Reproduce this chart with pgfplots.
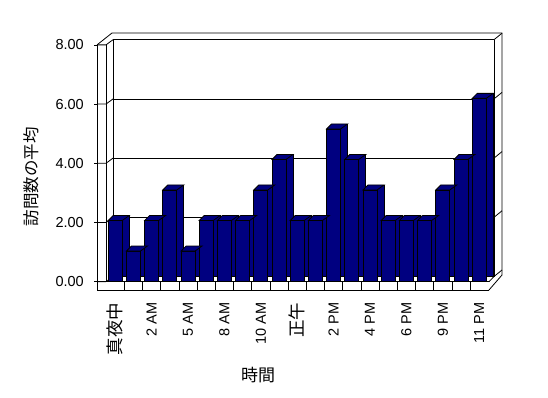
\documentclass[border=0pt]{standalone}
\usepackage{fontspec}
\setmainfont{Liberation Sans}
\newfontfamily\cjk{Noto Sans CJK JP}
\usepackage{pgfplots}
\usepackage{pgfplotstable}
\pgfplotsset{compat=1.18}
\definecolor{barfront}{HTML}{000080}
\definecolor{barside}{HTML}{000080}
\definecolor{bartop}{HTML}{000080}

\pgfdeclareplotmark{topface}{%
  \pgfpathmoveto{\pgfqpoint{-7pt}{0pt}}%
  \pgfpathlineto{\pgfqpoint{7pt}{0pt}}%
  \pgfpathlineto{\pgfqpoint{14pt}{5pt}}%
  \pgfpathlineto{\pgfqpoint{-2pt}{5pt}}%
  \pgfpathclose
  \pgfusepathqfillstroke}

\pgfplotstableread{
hour visits
0 2
1 1
2 2
3 3
4 1
5 2
6 2
7 2
8 3
9 4
10 2
11 2
12 5
13 4
14 3
15 2
16 2
17 2
18 3
19 4
20 6
}\visits

\begin{document}
\begin{tikzpicture}
\path[use as bounding box] (0pt,0pt) rectangle (548pt,-398pt);

% back wall with gridlines
\begin{axis}[at={(113pt,-276.5pt)}, anchor=south west, scale only axis,
  width=381pt, height=236.8pt, xmin=0, xmax=1, ymin=0, ymax=8,
  xtick=\empty, ytick={0,2,4,6,8}, yticklabels={}, ymajorgrids,
  grid style={black, line width=0.8pt},
  axis line style={draw=none}, tick style={draw=none}]
\addplot[draw=none] coordinates {(0,0)};
\end{axis}

% walls
\begin{scope}[x=1pt, y=-1pt, line width=0.8pt]
  \draw (97,44.9) -- (97,290);
  \draw (106,44.9) -- (106,281.7);
  \draw (113,39.7) -- (113,276.5);
  \draw (494,39.7) -- (494,276.5);
  \draw (97,44.9) -- (112,33) -- (502,33) -- (502,275);
  \foreach \yf/\yb in {281.7/276.5, 222.5/217.3, 163.3/158.1, 104.1/98.9, 44.9/39.7}{
    \draw (97,\yf) -- (106,\yf) -- (113,\yb);
    \draw (494,\yb) -- (502,\yb-6.5);
  }
\end{scope}

% bars
\begin{axis}[at={(106.1pt,-281.6pt)}, anchor=south west, scale only axis,
  width=382.2pt, height=244.3pt, xmin=-0.5, xmax=20.5, ymin=0, ymax=8,
  clip=false, axis line style={draw=none}, tick style={draw=none},
  ytick=\empty, xtick={0,2,...,20},
  xticklabels={{\cjk\fontsize{17.5}{20}\selectfont 真夜中}, 2 AM, 5 AM, 8 AM, 10 AM,
    {\cjk\fontsize{17.5}{20}\selectfont 正午}, 2 PM, 4 PM, 6 PM, 9 PM, 11 PM},
  xticklabel style={rotate=90, anchor=east, inner sep=0pt,
    font=\fontsize{14.5}{16}\selectfont},
  xticklabel shift=21pt]
\pgfplotsinvokeforeach{0,...,20}{
  \addplot[ybar, bar width=14pt, bar shift=0pt, fill=barside, draw=black,
    line width=0.8pt, xshift=7pt, yshift=5pt,
    restrict x to domain=#1:#1, forget plot]
    table[x=hour, y=visits] {\visits};
  \addplot[ybar, bar width=14pt, bar shift=0pt, fill=barfront, draw=black,
    line width=0.8pt, mark=topface, mark options={fill=bartop, draw=black},
    restrict x to domain=#1:#1, forget plot]
    table[x=hour, y=visits] {\visits};
}
\end{axis}

% floor front face
\begin{scope}[x=1pt, y=-1pt, line width=0.8pt]
  \fill[white] (106.4,282.1) rectangle (489,289.6);
  \draw (97,281.7) -- (489,281.7);
  \draw (97,290) -- (489,290);
  \foreach \k in {1,...,20}{
    \draw ({106.1+18.2*\k},281.7) -- ({106.1+18.2*\k},290);
  }
  \draw (489,281.7) -- (494,276.5);
  \draw (489,290) -- (502,275);
  \node[rotate=90, font=\cjk\fontsize{16.5}{18}\selectfont] at (31,176.5) {訪問数の平均};
  \node[font=\cjk\fontsize{17}{19}\selectfont] at (258,375.5) {時間};
\end{scope}

% front value axis
\begin{axis}[at={(97pt,-281.7pt)}, anchor=south west, scale only axis,
  width=10pt, height=236.8pt, xmin=0, xmax=1, ymin=0, ymax=8,
  xtick=\empty, ytick={0,2,4,6,8}, ytick pos=left,
  axis line style={draw=none}, tick align=outside, major tick length=3pt,
  ytick style={black, line width=0.8pt},
  /pgf/number format/assume math mode=true,
  yticklabel style={font=\fontsize{14.5}{16}\selectfont, inner sep=0pt,
    /pgf/number format/fixed, /pgf/number format/fixed zerofill,
    /pgf/number format/precision=2},
  yticklabel shift=10pt]
\addplot[draw=none] coordinates {(0,0)};
\end{axis}
\end{tikzpicture}
\end{document}
